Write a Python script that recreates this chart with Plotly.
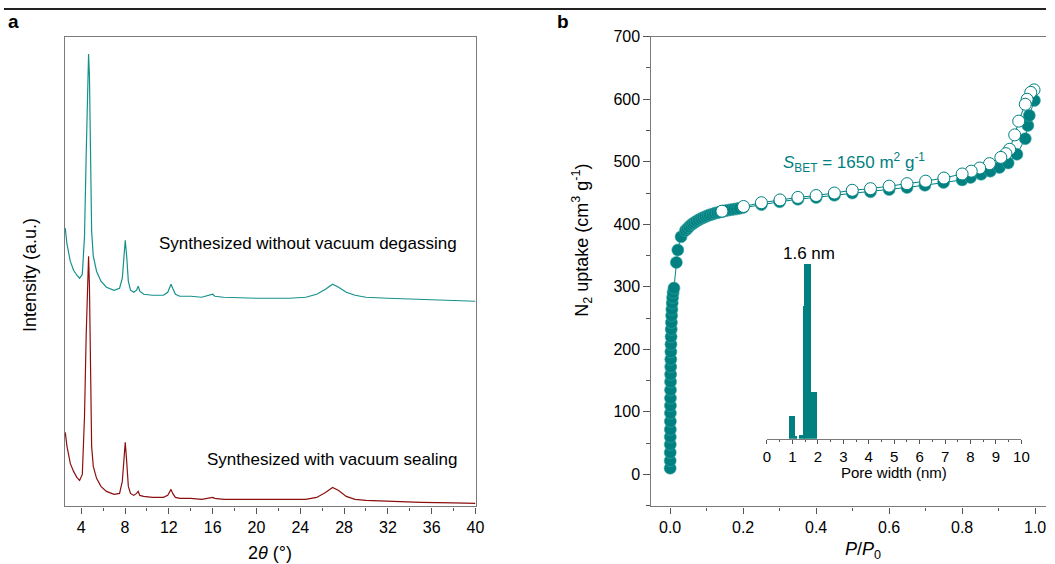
import plotly.graph_objects as go

W, H = 1055, 564

# ---------------- Panel a: XRD ----------------
two_theta = [2.54, 2.7, 3.0, 3.3, 3.6, 3.85, 4.1, 4.3, 4.45, 4.6, 4.67, 4.75, 4.85, 4.95, 5.1, 5.4,
             5.8, 6.3, 7.0, 7.5, 7.75, 7.9, 8.02, 8.15, 8.3, 8.5, 8.8, 9.05, 9.2, 9.35, 9.7, 10.5,
             11.5, 11.9, 12.1, 12.2, 12.35, 12.6, 13.0, 14.0, 15.0, 15.8, 16.0, 16.2, 17.0, 20.0,
             23.0, 24.5, 25.5, 26.3, 26.95, 27.5, 28.2, 29.0, 30.0, 32.0, 35.0, 38.0, 40.0]
xrd_without_degassing = [278, 262, 245, 236, 231, 228, 232, 270, 350, 440, 452, 430, 330, 275, 250, 235,
                         225, 219, 216, 218, 228, 252, 266, 250, 225, 216, 214, 216, 220, 215, 212, 211,
                         211, 214, 220, 222, 218, 212, 210, 210, 209, 211, 212, 210, 209, 208,
                         208, 209, 212, 217, 222, 219, 214, 211, 209, 208, 207, 206, 205]
xrd_vacuum_sealing = [74, 60, 43, 35, 29, 26, 32, 90, 170, 245, 250, 220, 120, 60, 40, 28,
                      20, 15, 12, 13, 25, 52, 64, 45, 20, 13, 11, 13, 15, 11, 10, 9,
                      9, 11, 16, 17, 13, 9, 8, 8, 7, 8, 9, 8, 7, 7,
                      7, 7, 9, 14, 19, 16, 10, 7, 6, 5, 4, 3.5, 3]
xrd_ticks = [4, 8, 12, 16, 20, 24, 28, 32, 36, 40]

# ---------------- Panel b: N2 isotherm ----------------
ads_p = [0.0001, 0.0002, 0.0003, 0.0004, 0.0005, 0.0006, 0.0007, 0.0008, 0.0009, 0.0010,
         0.0011, 0.0012, 0.0014, 0.0016, 0.0018, 0.0020, 0.0023, 0.0026, 0.0030, 0.0035,
         0.0041, 0.0048, 0.0057, 0.0068, 0.0082, 0.0105, 0.017, 0.021, 0.030, 0.042,
         0.047, 0.052, 0.057, 0.062, 0.067, 0.072, 0.078, 0.084, 0.090, 0.096,
         0.102, 0.108, 0.115, 0.122, 0.129, 0.136, 0.143, 0.150, 0.158, 0.166,
         0.174, 0.182, 0.190, 0.20, 0.25, 0.30, 0.35, 0.40, 0.45, 0.499,
         0.549, 0.600, 0.649, 0.698, 0.749, 0.800, 0.823, 0.852, 0.877, 0.902,
         0.926, 0.950, 0.973, 0.980, 0.984, 0.998]
ads_v = [10, 22, 35, 48, 60, 72, 85, 98, 110, 122,
         135, 148, 160, 172, 184, 196, 208, 220, 232, 243,
         254, 264, 274, 283, 291, 298, 339, 359, 380, 390,
         393, 396, 399, 401, 403, 405, 407, 409, 410.5, 412,
         413.5, 415, 416, 417.5, 418.5, 419.5, 420.5, 421.5, 422.5, 423.3,
         424, 424.7, 425.5, 427, 431.5, 436, 440, 443, 446.5, 450,
         452, 455.5, 459, 462.5, 467, 471, 475, 480, 485, 491,
         498, 512, 537, 558, 574, 598]
des_p = [0.997, 0.988, 0.978, 0.973, 0.955, 0.944, 0.930, 0.920, 0.906, 0.875,
         0.848, 0.825, 0.800, 0.750, 0.700, 0.649, 0.600, 0.549, 0.499, 0.450,
         0.400, 0.350, 0.301, 0.250, 0.201, 0.142]
des_v = [615, 611, 600, 592, 565, 543, 520, 513, 507, 497,
         490, 485, 480.5, 474, 469, 465, 461, 457, 454.4, 450,
         446, 443, 439, 434.5, 428.5, 421]

# inset: pore size distribution
pore_width = [0.97, 1.14, 1.34, 1.45, 1.595, 1.85]
pore_bin = [0.25, 0.08, 0.18, 0.04, 0.25, 0.26]
pore_dv = [0.13, 0.017, 0.023, 0.76, 1.0, 0.27]

TEAL = "#008080"
TEAL_LINE = "#15918c"
RED = "#8b0f0f"
AXIS = "#7a7a7a"
TICK = "#555555"
FONT = "Arial, Liberation Sans, sans-serif"

# placement helpers (target pixel positions -> paper fractions)
SX, OX = 0.986, 4.3
SY, OY = 0.985, 8.0


def ix(x):
    return (x - OX) / SX


def iy(y):
    return (y - OY) / SY


def px(x):
    return min(1.0, max(0.0, ix(x) / W))


def py(y):
    return min(1.0, max(0.0, 1 - iy(y) / H))


# panel b x-axis: P=0 at 669.3 px; P=1 kept where its label still fits
b0, b1 = ix(669.3), 1044.0
b_unit = b1 - b0
b_range = [(ix(650.7) - b0) / b_unit, (W - b0) / b_unit]

fig = go.Figure()

fig.add_trace(go.Scatter(x=two_theta, y=xrd_without_degassing, mode="lines",
                         line=dict(color=TEAL_LINE, width=1.2), xaxis="x", yaxis="y",
                         showlegend=False))
fig.add_trace(go.Scatter(x=two_theta, y=xrd_vacuum_sealing, mode="lines",
                         line=dict(color=RED, width=1.2), xaxis="x", yaxis="y",
                         showlegend=False))

fig.add_trace(go.Scatter(x=ads_p, y=ads_v, mode="lines+markers",
                         line=dict(color=TEAL, width=1),
                         marker=dict(size=12, color=TEAL, line=dict(color="#3aa6a2", width=0.6)),
                         xaxis="x2", yaxis="y2", showlegend=False, cliponaxis=False))
fig.add_trace(go.Scatter(x=des_p, y=des_v, mode="lines+markers",
                         line=dict(color=TEAL, width=1),
                         marker=dict(size=12, color="white", line=dict(color=TEAL, width=1)),
                         xaxis="x2", yaxis="y2", showlegend=False, cliponaxis=False))

fig.add_trace(go.Bar(x=pore_width, y=pore_dv, width=pore_bin, marker=dict(color=TEAL, line=dict(width=0)),
                     xaxis="x3", yaxis="y3", showlegend=False))

fig.update_layout(
    width=W, height=H,
    margin=dict(l=0, r=0, t=0, b=0),
    paper_bgcolor="white", plot_bgcolor="rgba(0,0,0,0)",
    font=dict(family=FONT, size=16, color="black"),
    bargap=0,
    xaxis=dict(domain=[px(65), px(475)], range=[2.5, 40], anchor="y",
               tickvals=xrd_ticks, ticks="outside", ticklen=6, tickcolor=TICK, tickwidth=1,
               minor=dict(dtick=2, tick0=0, ticks="outside", ticklen=3, tickcolor=TICK),
               showline=True, linecolor=AXIS, linewidth=1.3, mirror=True,
               showgrid=False, zeroline=False, tickfont=dict(size=16)),
    yaxis=dict(domain=[py(506), py(37)], range=[0, 469], anchor="x",
               showticklabels=False, ticks="", showline=True, linecolor=AXIS, linewidth=1.3,
               mirror=True, showgrid=False, zeroline=False),
    xaxis2=dict(domain=[px(650.7), 1.0], range=b_range, anchor="y2",
                tickvals=[0, 0.2, 0.4, 0.6, 0.8, 1.0], tickformat=".1f",
                ticks="outside", ticklen=6, tickcolor=TICK, ticklabeloverflow="allow",
                minor=dict(dtick=0.1, tick0=0, ticks="outside", ticklen=3, tickcolor=TICK),
                showline=True, linecolor=AXIS, linewidth=1.3, mirror=True,
                showgrid=False, zeroline=False, tickfont=dict(size=16)),
    yaxis2=dict(domain=[py(506), py(36.7)], range=[-51.2, 700], anchor="x2",
                tickvals=[0, 100, 200, 300, 400, 500, 600, 700],
                ticks="outside", ticklen=7, tickcolor=TICK,
                minor=dict(dtick=50, tick0=0, ticks="outside", ticklen=4, tickcolor=TICK),
                showline=True, linecolor=AXIS, linewidth=1.3, mirror=False,
                showgrid=False, zeroline=False, tickfont=dict(size=16)),
    xaxis3=dict(domain=[px(766), px(1020)], range=[0, 10], anchor="y3",
                tickvals=list(range(0, 11)), ticks="outside", ticklen=4, tickcolor=TICK,
                minor=dict(dtick=0.5, tick0=0, ticks="outside", ticklen=2, tickcolor=TICK),
                showline=True, linecolor=AXIS, linewidth=1.2,
                showgrid=False, zeroline=False, tickfont=dict(size=15)),
    yaxis3=dict(domain=[py(438.3), py(260.8)], range=[0, 1.02], anchor="x3", visible=False),
)

ann = [
    dict(x=px(14), y=py(21), text="<b>a</b>", font=dict(size=19)),
    dict(x=px(562), y=py(21), text="<b>b</b>", font=dict(size=19)),
    dict(x=px(30), y=py(275), text="Intensity (a.u.)", textangle=-90, font=dict(size=18)),
    dict(x=px(270), y=py(553), text="2<i>θ</i> (°)", font=dict(size=18)),
    dict(x=px(581), y=py(240), text="N<sub>2</sub> uptake (cm<sup>3</sup> g<sup>-1</sup>)",
         textangle=-90, font=dict(size=18)),
    dict(x=px(862), y=py(550), text="<i>P</i>/<i>P</i><sub>0</sub>", font=dict(size=18)),
    dict(x=px(458.3), y=py(243), text="Synthesized without vacuum degassing", xanchor="right",
         font=dict(size=17)),
    dict(x=px(458.3), y=py(459), text="Synthesized with vacuum sealing", xanchor="right",
         font=dict(size=17)),
    dict(x=px(780), y=py(162), text="<i>S</i><sub>BET</sub> = 1650 m<sup>2</sup> g<sup>-1</sup>",
         xanchor="left", font=dict(size=17, color=TEAL)),
    dict(x=px(808), y=py(253), text="1.6 nm", font=dict(size=17)),
    dict(x=px(893), y=py(472), text="Pore width (nm)", font=dict(size=15)),
]
for a in ann:
    a.setdefault("xanchor", "center")
    a.update(xref="paper", yref="paper", showarrow=False, yanchor="middle")
    fig.add_annotation(**a)

fig.add_shape(type="line", xref="paper", yref="paper", x0=0, x1=1, y0=1 - 1 / H, y1=1 - 1 / H,
              line=dict(color="#222222", width=2))

post = (
    "document.documentElement.style.margin='0';"
    "document.body.style.margin='0';"
    "document.body.style.overflow='hidden';"
)
fig.write_html("out.html", config={"displayModeBar": False}, post_script=post)
